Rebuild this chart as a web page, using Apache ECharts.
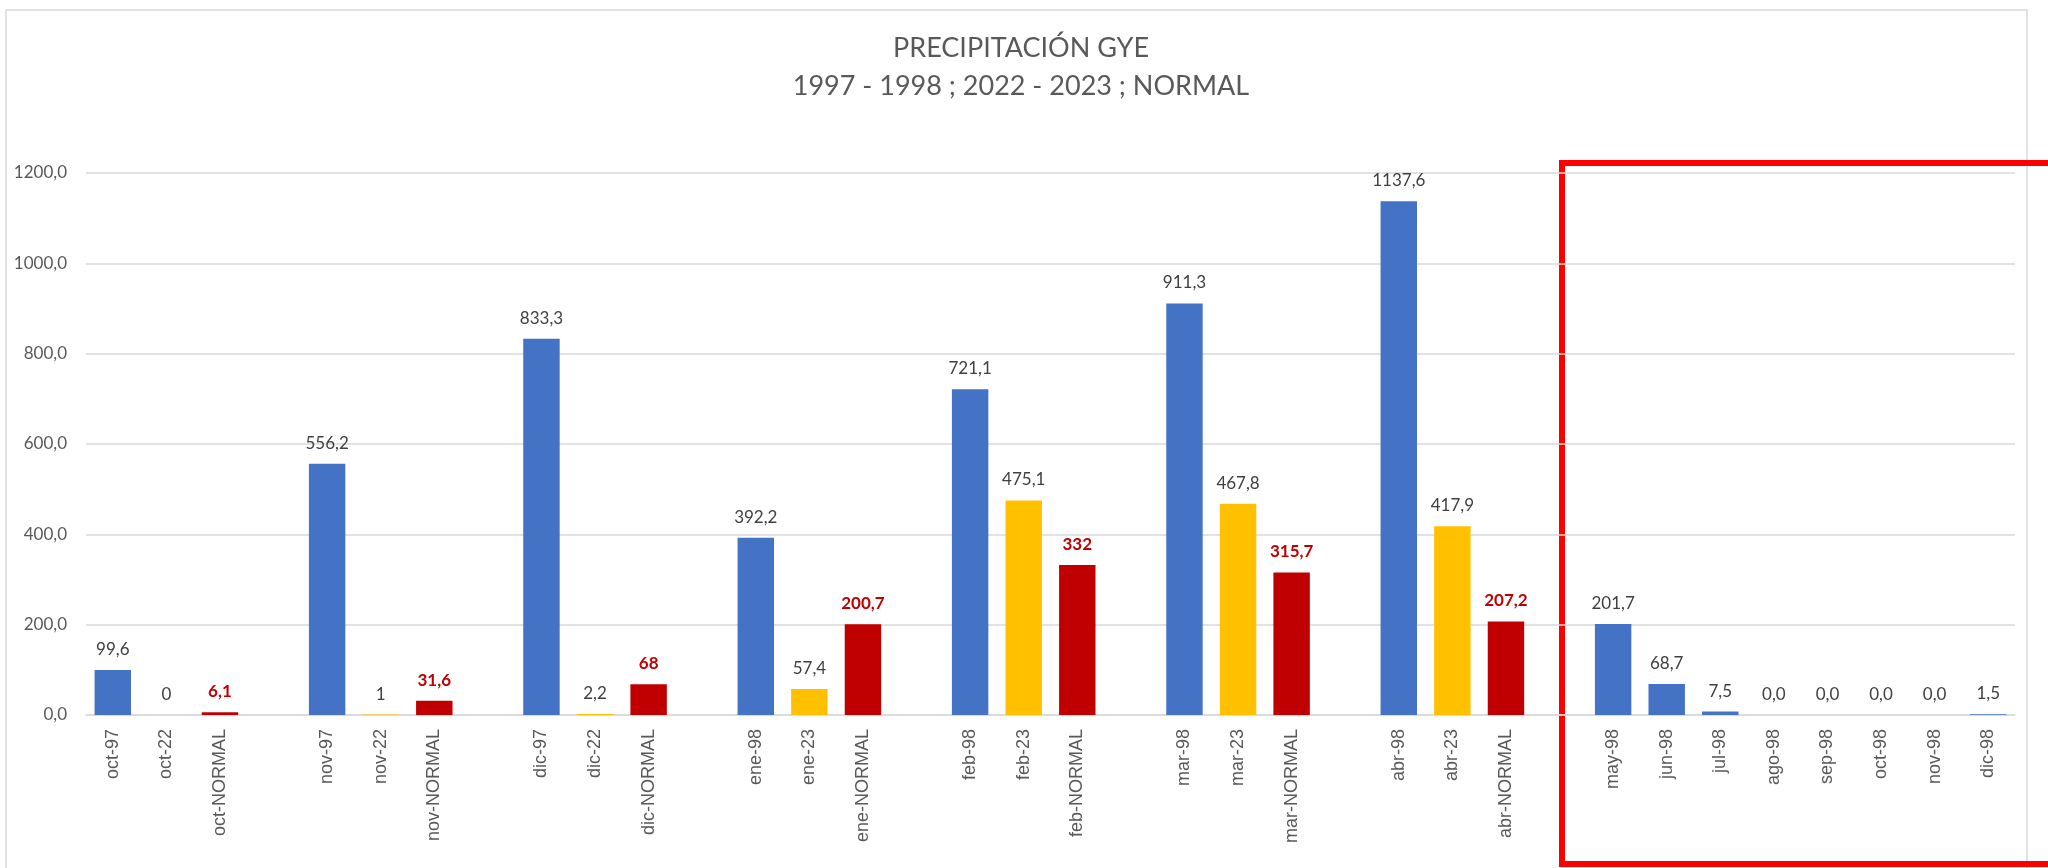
<!DOCTYPE html>
<html>
<head>
<meta charset="utf-8">
<title>Precipitación GYE</title>
<script src="https://cdn.jsdelivr.net/npm/echarts@6/dist/echarts.min.js"></script>
<style>
  html, body { margin: 0; padding: 0; background: #fff; }
  #main { width: 2048px; height: 868px; }
</style>
</head>
<body>
<div id="main"></div>
<script>
// categorias (las vacias son el espacio entre meses)
var categories = [
  'oct-97', 'oct-22', 'oct-NORMAL', '',
  'nov-97', 'nov-22', 'nov-NORMAL', '',
  'dic-97', 'dic-22', 'dic-NORMAL', '',
  'ene-98', 'ene-23', 'ene-NORMAL', '',
  'feb-98', 'feb-23', 'feb-NORMAL', '',
  'mar-98', 'mar-23', 'mar-NORMAL', '',
  'abr-98', 'abr-23', 'abr-NORMAL', '',
  'may-98', 'jun-98', 'jul-98', 'ago-98', 'sep-98', 'oct-98', 'nov-98', 'dic-98'
];
var values = [
  99.6, 0, 6.1, null,
  556.2, 1, 31.6, null,
  833.3, 2.2, 68, null,
  392.2, 57.4, 200.7, null,
  721.1, 475.1, 332, null,
  911.3, 467.8, 315.7, null,
  1137.6, 417.9, 207.2, null,
  201.7, 68.7, 7.5, 0, 0, 0, 0, 1.5
];
var yTicks = [0, 200, 400, 600, 800, 1000, 1200];

var BLUE = '#4472C4', YELLOW = '#FFC000', RED = '#C00000';

function kind(cat) {
  if (/NORMAL$/.test(cat)) return 'normal';
  if (/-2[23]$/.test(cat)) return 'actual';
  return 'nino';
}

var data = values.map(function (v, i) {
  if (v === null) return '-';
  var k = kind(categories[i]);
  var txt = k === 'nino' ? v.toFixed(1) : String(v);
  return {
    value: v,
    itemStyle: { color: k === 'normal' ? RED : (k === 'actual' ? YELLOW : BLUE) },
    label: {
      formatter: txt.replace('.', ','),
      color: k === 'normal' ? RED : '#404040',
      fontWeight: k === 'normal' ? 'bold' : 'normal'
    }
  };
});

var chart = echarts.init(document.getElementById('main'));
chart.setOption({
  animation: false,
  backgroundColor: '#fff',
  title: {
    text: 'PRECIPITACIÓN GYE\n1997 - 1998 ; 2022 - 2023 ; NORMAL',
    left: 1016,
    top: 24,
    textAlign: 'center',
    textStyle: {
      fontFamily: 'Lato',
      fontSize: 27,
      fontWeight: 'normal',
      color: '#595959',
      lineHeight: 38
    }
  },
  grid: { left: 86, right: 33, top: 173, bottom: 153 },
  xAxis: {
    type: 'category',
    data: categories,
    axisLine: { lineStyle: { color: '#d9d9d9', width: 1.5 } },
    axisTick: { show: false },
    axisLabel: {
      interval: 0,
      rotate: 90,
      margin: 14,
      fontFamily: 'Liberation Sans',
      fontSize: 18,
      color: '#595959'
    }
  },
  yAxis: {
    type: 'value',
    min: yTicks[0],
    max: yTicks[yTicks.length - 1],
    interval: 200,
    axisLine: { show: false },
    axisTick: { show: false },
    splitLine: { lineStyle: { color: '#d9d9d9', width: 1.5 } },
    axisLabel: {
      margin: 19,
      fontFamily: 'Lato',
      fontSize: 17,
      color: '#595959',
      formatter: function (v) { return v.toFixed(1).replace('.', ','); }
    }
  },
  series: [{
    type: 'bar',
    barWidth: '68%',
    data: data,
    label: {
      show: true,
      position: 'top',
      distance: 12,
      fontFamily: 'Lato',
      fontSize: 17
    }
  }],
  graphic: [
    {
      type: 'rect',
      shape: { x: 6, y: 10, width: 2021, height: 880 },
      style: { fill: null, stroke: '#d9d9d9', lineWidth: 1.5 },
      silent: true
    },
    {
      type: 'rect',
      shape: { x: 1562, y: 163, width: 600, height: 701 },
      style: { fill: null, stroke: '#FF0000', lineWidth: 6 },
      silent: true
    }
  ]
});
</script>
</body>
</html>
